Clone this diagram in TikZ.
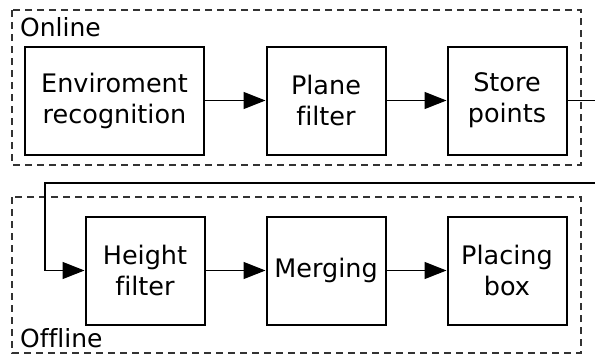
\documentclass[tikz,border=0pt]{standalone}
\usepackage{fontspec}
\setmainfont{DejaVu Sans}[Ligatures=NoCommon]
\usetikzlibrary{arrows.meta}
\usetikzlibrary{positioning}
\tikzset{
  stepbox/.style={draw=black, line width=2pt, minimum width=119pt, minimum height=108pt,
    align=center, inner sep=0pt, font=\fontsize{25.5}{31}\selectfont},
  flow/.style={line width=1.4pt, -{Triangle[length=22pt, width=17pt]}},
  groupbox/.style={draw=black!80, line width=1.4pt, dash pattern=on 7pt off 5pt},
  grouplabel/.style={anchor=base west, inner sep=0pt, font=\fontsize{25}{28}\selectfont}
}

\begin{document}
\begin{tikzpicture}[x=1pt, y=-1pt]
\useasboundingbox (0,0) rectangle (595,356);

% the two stages
\draw[groupbox] (12,10) rectangle (581,165);
\draw[groupbox] (12,197) rectangle (581,353);
\node[grouplabel] (onlinelbl) at (20,36) {Online};
\node[grouplabel] (offlinelbl) at (20,347) {Offline};

% online steps
\node[stepbox, minimum width=179pt] (envrec) at (114.5,100.5) {Enviroment\\recognition};
\node[stepbox] (planefilt) at (326,100.5) {Plane\\filter};
\node[stepbox] (storepts) at (507,100.5) {Store\\points};

% offline steps
\node[stepbox] (heightfilt) at (145,270.5) {Height\\filter};
\node[stepbox] (merging) at (326,270.5) {Merging};
\node[stepbox] (placingbox) at (507,270.5) {Placing\\box};

\draw[flow] (envrec) -- (planefilt);
\draw[flow] (planefilt) -- (storepts);
\draw[flow] (heightfilt) -- (merging);
\draw[flow] (merging) -- (placingbox);

% hand over from online to offline
\coordinate (outright) at (600,100.5);
\coordinate (backleft) at (45,183);
\draw[flow] (storepts.east) -- (outright) |- (backleft) |- (heightfilt.west);
\end{tikzpicture}
\end{document}
